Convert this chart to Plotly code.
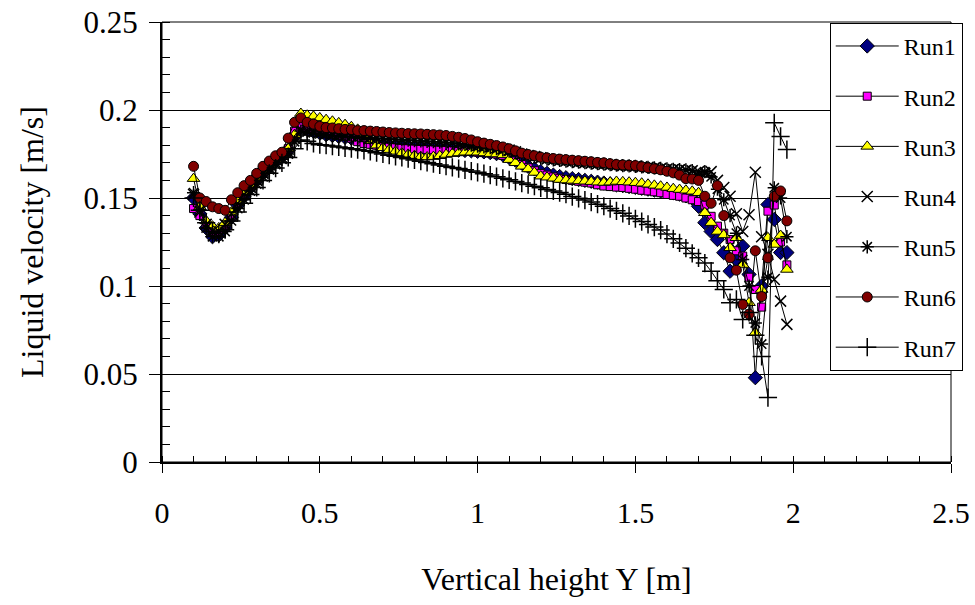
"""Liquid velocity profiles along the vertical height for seven runs (Excel-style chart)."""

import plotly.graph_objects as go

FONT_FAMILY = "Liberation Serif, serif"

HEIGHT_Y = [
    0.10, 0.12, 0.14, 0.16, 0.18, 0.20,
    0.22, 0.24, 0.26, 0.28, 0.30, 0.32, 0.34, 0.36, 0.38, 0.40, 0.42,
    0.44, 0.46, 0.48, 0.50, 0.52, 0.54, 0.56, 0.58, 0.60, 0.62, 0.64, 0.66, 0.68, 0.70,
    0.72, 0.74, 0.76, 0.78, 0.80, 0.82, 0.84, 0.86, 0.88, 0.90, 0.92, 0.94, 0.96, 0.98, 1.00,
    1.02, 1.04, 1.06, 1.08, 1.10, 1.12, 1.14, 1.16, 1.18, 1.20, 1.22, 1.24, 1.26, 1.28, 1.30,
    1.32, 1.34, 1.36, 1.38, 1.40, 1.42, 1.44, 1.46, 1.48, 1.50, 1.52, 1.54, 1.56, 1.58, 1.60,
    1.62, 1.64, 1.66, 1.68, 1.70,
    1.72, 1.74, 1.76, 1.78, 1.80, 1.82, 1.84, 1.86, 1.88, 1.90, 1.92, 1.94, 1.96, 1.98,
]

RUN1 = [
    0.150, 0.141, 0.133, 0.128, 0.129, 0.133,
    0.139, 0.146, 0.151, 0.156, 0.160, 0.164, 0.168, 0.171, 0.174, 0.177, 0.185,
    0.190, 0.189, 0.188, 0.187, 0.186, 0.1855, 0.185, 0.1845, 0.184, 0.1832, 0.1825, 0.1815, 0.1808, 0.180,
    0.1795, 0.179, 0.1786, 0.1783, 0.178, 0.1778, 0.1777, 0.1776, 0.1775, 0.1775, 0.1774, 0.1772, 0.177, 0.1768, 0.1765,
    0.1762, 0.1758, 0.1752, 0.1745, 0.173, 0.1715, 0.1698, 0.168, 0.1665, 0.165, 0.164, 0.163, 0.1622, 0.1615, 0.161,
    0.1605, 0.160, 0.1595, 0.159, 0.1585, 0.158, 0.1575, 0.157, 0.1565, 0.156, 0.1555, 0.155, 0.1545, 0.154, 0.1535,
    0.153, 0.1522, 0.1512, 0.150, 0.1453,
    0.136, 0.131, 0.1264, 0.1189, 0.1084, 0.115, 0.1226, 0.1066, 0.0479, 0.100, 0.1463, 0.1378, 0.119, 0.119,
]

RUN2 = [
    0.144, 0.140, 0.135, 0.131, 0.130, 0.134,
    0.140, 0.147, 0.152, 0.157, 0.161, 0.165, 0.169, 0.172, 0.175, 0.178, 0.188,
    0.191, 0.190, 0.189, 0.188, 0.187, 0.1865, 0.1856, 0.185, 0.184, 0.182, 0.181, 0.1805, 0.180, 0.1795,
    0.179, 0.1786, 0.1782, 0.178, 0.1778, 0.1776, 0.1775, 0.1774, 0.1773, 0.1772, 0.177, 0.1768, 0.1766, 0.1764, 0.176,
    0.1758, 0.1755, 0.175, 0.1742, 0.1725, 0.171, 0.169, 0.1672, 0.1655, 0.164, 0.163, 0.162, 0.1612, 0.1605, 0.160,
    0.1595, 0.159, 0.1585, 0.1575, 0.1568, 0.1565, 0.1562, 0.156, 0.1555, 0.155, 0.1544, 0.154, 0.1535, 0.153, 0.152,
    0.1515, 0.151, 0.150, 0.149, 0.148,
    0.146, 0.1396, 0.134, 0.130, 0.1264, 0.120, 0.117, 0.105, 0.098, 0.088, 0.1425, 0.146, 0.125, 0.112,
]

RUN3 = [
    0.161, 0.145, 0.137, 0.134, 0.133, 0.136,
    0.142, 0.148, 0.153, 0.157, 0.161, 0.165, 0.169, 0.172, 0.175, 0.178, 0.186,
    0.198, 0.197, 0.1964, 0.1955, 0.1945, 0.1936, 0.1927, 0.1917, 0.1905, 0.189, 0.186, 0.1825, 0.180, 0.1785,
    0.1775, 0.1765, 0.1756, 0.1748, 0.1741, 0.1735, 0.1733, 0.1735, 0.174, 0.1747, 0.1752, 0.1756, 0.176, 0.176, 0.176,
    0.1756, 0.1752, 0.175, 0.1745, 0.1718, 0.170, 0.168, 0.1665, 0.1645, 0.1624, 0.1618, 0.1612, 0.1605, 0.1602, 0.160,
    0.1597, 0.1595, 0.1593, 0.159, 0.1588, 0.159, 0.1594, 0.1592, 0.159, 0.1587, 0.1584, 0.1578, 0.1572, 0.1567, 0.156,
    0.1553, 0.1548, 0.1544, 0.1538, 0.153,
    0.1416, 0.136, 0.131, 0.129, 0.1217, 0.1274, 0.1122, 0.0905, 0.0735, 0.098, 0.1274, 0.1236, 0.1287, 0.1094,
]

RUN4 = [
    0.152, 0.142, 0.135, 0.131, 0.131, 0.135,
    0.141, 0.147, 0.152, 0.156, 0.160, 0.164, 0.167, 0.170, 0.173, 0.176, 0.184,
    0.189, 0.1885, 0.188, 0.1875, 0.187, 0.1866, 0.1862, 0.1858, 0.1855, 0.185, 0.1848, 0.1845, 0.1842, 0.184,
    0.1838, 0.1836, 0.1834, 0.1832, 0.183, 0.1828, 0.1826, 0.1824, 0.1822, 0.182, 0.1816, 0.1812, 0.1808, 0.1804, 0.180,
    0.1796, 0.1792, 0.1786, 0.178, 0.1772, 0.1762, 0.175, 0.1742, 0.1735, 0.1728, 0.1722, 0.1718, 0.1714, 0.171, 0.1707,
    0.1704, 0.1701, 0.1698, 0.1695, 0.1692, 0.1689, 0.1686, 0.1684, 0.1682, 0.168, 0.1677, 0.1674, 0.1671, 0.1668, 0.1665,
    0.1662, 0.166, 0.1658, 0.1655, 0.165,
    0.164, 0.165, 0.160, 0.156, 0.151, 0.141, 0.131, 0.1405, 0.1646, 0.128, 0.118, 0.1037, 0.0914, 0.0782,
]

RUN5 = [
    0.153, 0.143, 0.133, 0.128, 0.128, 0.131,
    0.137, 0.144, 0.149, 0.154, 0.158, 0.162, 0.166, 0.169, 0.172, 0.175, 0.182,
    0.188, 0.1875, 0.187, 0.1865, 0.186, 0.1857, 0.1853, 0.185, 0.1848, 0.1845, 0.1842, 0.184, 0.1838, 0.1836,
    0.1834, 0.1832, 0.183, 0.1828, 0.1826, 0.1824, 0.1822, 0.182, 0.1818, 0.1815, 0.1812, 0.1808, 0.1804, 0.180, 0.1795,
    0.179, 0.1786, 0.178, 0.1774, 0.1766, 0.1756, 0.1745, 0.1738, 0.1732, 0.1726, 0.1721, 0.1717, 0.1713, 0.171, 0.1707,
    0.1704, 0.1701, 0.1698, 0.1695, 0.1692, 0.1689, 0.1686, 0.1684, 0.1682, 0.168, 0.1677, 0.1674, 0.1671, 0.1668, 0.1665,
    0.1663, 0.1662, 0.166, 0.1655, 0.163,
    0.165, 0.162, 0.155, 0.149, 0.140, 0.130, 0.115, 0.100, 0.079, 0.067, 0.105, 0.1558, 0.150, 0.128,
]

RUN6 = [
    0.168, 0.150, 0.148, 0.145, 0.144, 0.143,
    0.149, 0.153, 0.157, 0.160, 0.164, 0.168, 0.171, 0.174, 0.176, 0.184, 0.193,
    0.1955, 0.193, 0.192, 0.1907, 0.190, 0.1898, 0.1894, 0.189, 0.1889, 0.1883, 0.1883, 0.188, 0.1878, 0.1875,
    0.1872, 0.187, 0.1868, 0.1866, 0.1865, 0.1864, 0.1862, 0.186, 0.1858, 0.1855, 0.185, 0.1845, 0.1838, 0.183, 0.182,
    0.1812, 0.1805, 0.1798, 0.179, 0.178, 0.1768, 0.1755, 0.1747, 0.174, 0.1732, 0.1728, 0.1724, 0.1721, 0.1718, 0.1715,
    0.1712, 0.1709, 0.1706, 0.1702, 0.170, 0.1695, 0.169, 0.1688, 0.1686, 0.1684, 0.1678, 0.1672, 0.1666, 0.166, 0.1652,
    0.1643, 0.163, 0.161, 0.1608, 0.160,
    0.151, 0.147, 0.157, 0.140, 0.116, 0.109, 0.0895, 0.084, 0.120, 0.094, 0.116, 0.151, 0.154, 0.137,
]

RUN7 = [
    0.150, 0.143, 0.136, 0.131, 0.130, 0.132,
    0.137, 0.142, 0.147, 0.152, 0.156, 0.160, 0.164, 0.167, 0.170, 0.173, 0.178,
    0.183, 0.1822, 0.181, 0.1803, 0.180, 0.1795, 0.179, 0.1785, 0.178, 0.1775, 0.177, 0.1765, 0.1757, 0.175,
    0.1743, 0.1737, 0.173, 0.1723, 0.1716, 0.1709, 0.1702, 0.1695, 0.1688, 0.1681, 0.1674, 0.1667, 0.166, 0.1653, 0.1646,
    0.1638, 0.163, 0.1621, 0.1612, 0.1603, 0.1594, 0.1585, 0.1576, 0.1567, 0.1558, 0.1549, 0.154, 0.1531, 0.1522, 0.1508,
    0.1498, 0.1488, 0.1477, 0.1465, 0.1453, 0.144, 0.1427, 0.1413, 0.1398, 0.1382, 0.1366, 0.135, 0.1335, 0.1318, 0.1295,
    0.1268, 0.1245, 0.1215, 0.1185, 0.116,
    0.113, 0.1084, 0.103, 0.098, 0.0905, 0.0924, 0.081, 0.085, 0.072, 0.060, 0.0366, 0.1927, 0.185, 0.1775,
]

RUNS: dict[str, list[float]] = {
    "Run1": RUN1,
    "Run2": RUN2,
    "Run3": RUN3,
    "Run4": RUN4,
    "Run5": RUN5,
    "Run6": RUN6,
    "Run7": RUN7,
}

_OUTLINE = {"color": "#000000", "width": 1}
_STROKE = {"color": "#000000", "width": 1.5}

_RUN_MARKERS: dict[str, dict] = {
    "Run1": {"symbol": "diamond", "size": 11, "color": "#000080", "line": _OUTLINE},
    "Run2": {"symbol": "square", "size": 8, "color": "#FF00FF", "line": _OUTLINE},
    "Run3": {"symbol": "triangle-up", "size": 11, "color": "#FFFF00", "line": _OUTLINE},
    "Run4": {"symbol": "x-thin-open", "size": 11, "color": "#000000", "line": _STROKE},
    "Run5": {"symbol": "asterisk-open", "size": 11, "color": "#000000", "line": _STROKE},
    "Run6": {"symbol": "circle", "size": 10, "color": "#800000", "line": _OUTLINE},
    "Run7": {"symbol": "cross-thin-open", "size": 13, "color": "#000000", "line": _STROKE},
}

for _name, _vals in RUNS.items():
    assert len(_vals) == len(HEIGHT_Y), (_name, len(_vals))


def velocity_profile_chart() -> go.Figure:
    """Line+marker chart of liquid velocity against vertical height."""
    fig = go.Figure()

    for name, values in RUNS.items():
        fig.add_trace(
            go.Scatter(
                x=HEIGHT_Y,
                y=values,
                mode="lines+markers",
                name=name,
                legendgroup=name,
                line={"color": "#000000", "width": 1},
                marker=_RUN_MARKERS[name],
            )
        )

    axis_common = {
        "showline": True,
        "linecolor": "#000000",
        "linewidth": 2,
        "ticks": "outside",
        "tickcolor": "#000000",
        "tickwidth": 1,
        "zeroline": False,
        "automargin": False,
        "ticklabeloverflow": "allow",
    }

    fig.update_layout(
        width=975,
        height=605,
        margin={"l": 162, "r": 19, "t": 22, "b": 143},
        paper_bgcolor="#FFFFFF",
        plot_bgcolor="#FFFFFF",
        font={"family": FONT_FAMILY, "size": 24, "color": "#000000"},
        showlegend=True,
        xaxis={
            **axis_common,
            "range": [0, 2.5],
            "dtick": 0.5,
            "ticklen": 9,
            "ticklabelstandoff": 14,
            "tickfont": {"family": FONT_FAMILY, "size": 30, "color": "#000000"},
            "showgrid": False,
            "minor": {"dtick": 0.1, "ticks": "inside", "ticklen": 6, "tickcolor": "#000000"},
            "title": {
                "text": "Vertical height Y [m]",
                "font": {"family": FONT_FAMILY, "size": 32},
                "standoff": 40,
            },
        },
        yaxis={
            **axis_common,
            "range": [0, 0.2500001],
            "dtick": 0.05,
            "ticklen": 11,
            "ticklabelstandoff": 5,
            "tickfont": {"family": FONT_FAMILY, "size": 31, "color": "#000000"},
            "showgrid": True,
            "gridcolor": "#000000",
            "gridwidth": 1,
            "minor": {"dtick": 0.01, "ticks": "inside", "ticklen": 8, "tickcolor": "#000000", "showgrid": False},
            "title": {
                "text": "Liquid velocity [m/s]",
                "font": {"family": FONT_FAMILY, "size": 32},
                "standoff": 30,
            },
        },
        legend={
            "x": 0.8463,
            "y": 0.998,
            "xanchor": "left",
            "yanchor": "top",
            "bgcolor": "#FFFFFF",
            "bordercolor": "#000000",
            "borderwidth": 1,
            "font": {"family": FONT_FAMILY, "size": 24},
            "itemwidth": 63,
            "tracegroupgap": 16,
        },
        shapes=[
            {
                "type": "rect",
                "xref": "paper",
                "yref": "paper",
                "x0": 0,
                "x1": 1,
                "y0": 0,
                "y1": 1,
                "line": {"color": "#000000", "width": 1},
                "layer": "below",
            }
        ],
    )
    return fig


fig = velocity_profile_chart()
# drop the browser's default body margin so the figure sits at the page corner
fig.write_html(
    "out.html",
    config={"displayModeBar": False},
    post_script="document.body.style.margin = '0';",
)
